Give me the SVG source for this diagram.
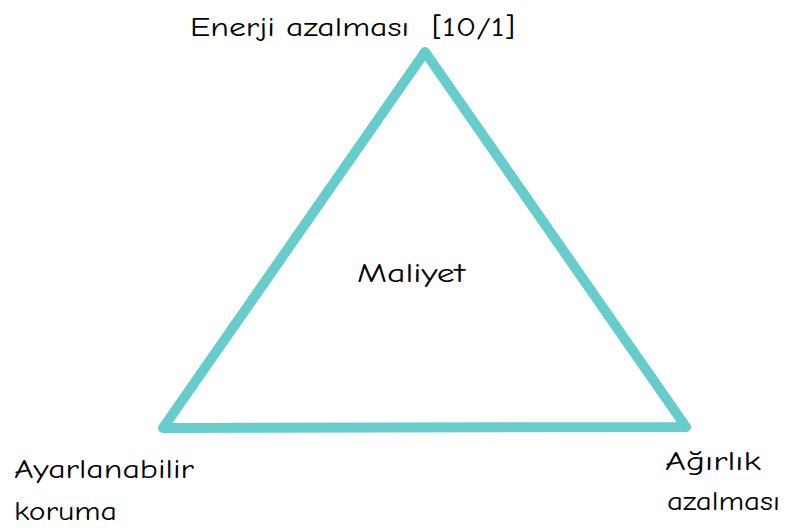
<svg xmlns="http://www.w3.org/2000/svg" width="786" height="532" viewBox="0 0 786 532">
<style>
.lbl{font-family:"Comic Neue","Liberation Sans","DejaVu Sans",sans-serif;font-size:27px;fill:#000}
.edge{fill:none;stroke:#66CCCC;stroke-width:10;stroke-linejoin:round;stroke-linecap:round}
</style>
<rect width="786" height="532" fill="#fff"/>
<g id="connectors">
<polygon class="edge" points="425,52 686,427 163,428"/>
</g>
<g id="node-top"><text class="lbl" x="190" y="36" textLength="325" lengthAdjust="spacingAndGlyphs" xml:space="preserve">Enerji azalması  [10/1]</text></g>
<g id="node-center"><text class="lbl" x="357" y="282" textLength="108" lengthAdjust="spacingAndGlyphs">Maliyet</text></g>
<g id="node-left"><text class="lbl" x="14" y="478" textLength="180" lengthAdjust="spacingAndGlyphs">Ayarlanabilir</text><text class="lbl" x="14" y="520" textLength="103" lengthAdjust="spacingAndGlyphs">koruma</text></g>
<g id="node-right"><text class="lbl" x="665" y="470" textLength="96" lengthAdjust="spacingAndGlyphs">Ağırlık</text><text class="lbl" x="667" y="510" textLength="113" lengthAdjust="spacingAndGlyphs">azalması</text></g>
</svg>
